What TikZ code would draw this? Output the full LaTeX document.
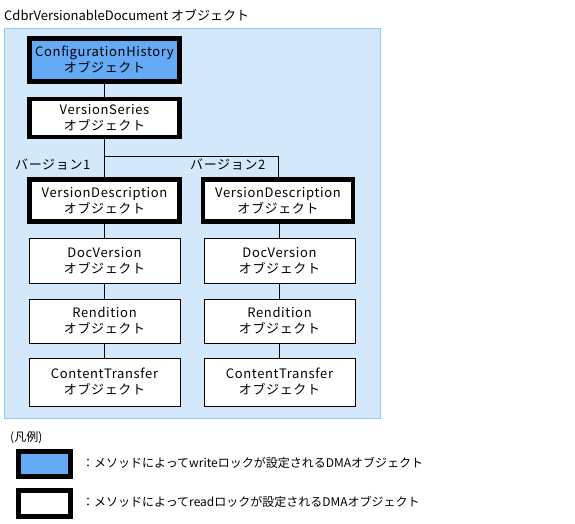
\documentclass[tikz,border=0pt]{standalone}
\usepackage{fontspec}
\setmainfont{Noto Sans CJK JP}
\newfontfamily\widejp[LetterSpace=5]{Noto Sans CJK JP}
\definecolor{panelfill}{RGB}{212,232,252}
\definecolor{panelline}{RGB}{150,200,245}
\definecolor{writeblue}{RGB}{100,170,245}
\tikzset{
  obj/.style={draw=black, line width=0.8pt, fill=white, minimum width=151pt, inner sep=0pt, align=center, font=\widejp\fontsize{13}{16}\selectfont},
  thickobj/.style={obj, line width=4.8pt, minimum width=150pt},
  writeobj/.style={thickobj, fill=writeblue},
  conn/.style={draw=black, line width=0.8pt},
  lbl/.style={inner sep=0pt, font=\widejp\fontsize{13}{15}\selectfont, anchor=west},
  titletext/.style={inner sep=0pt, font=\fontsize{13}{15}\selectfont, anchor=west},
  legtext/.style={inner sep=0pt, font=\fontsize{12}{14}\selectfont, anchor=west}
}
\begin{document}
\begin{tikzpicture}[x=1pt,y=-1pt]
\useasboundingbox (0,0) rectangle (575,523);
\fill[white] (0,0) rectangle (575,523);
\node[titletext] (title) at (4,15) {CdbrVersionableDocument オブジェクト};
\draw[draw=panelline, fill=panelfill, line width=1pt] (4.5,28.5) rectangle (380.5,418.5);

\node[writeobj, minimum height=43pt] (ch) at (104.5,60) {ConfigurationHistory\\オブジェクト};
\node[thickobj, minimum height=38pt] (vs) at (104.5,118) {VersionSeries\\オブジェクト};
\node[thickobj, minimum height=42pt] (vd1) at (104.5,200.5) {VersionDescription\\オブジェクト};
\node[thickobj, minimum height=42pt] (vd2) at (278,200.5) {VersionDescription\\オブジェクト};
\node[obj, minimum height=45pt] (dv1) at (104.5,260.5) {DocVersion\\オブジェクト};
\node[obj, minimum height=45pt] (dv2) at (279.5,260.5) {DocVersion\\オブジェクト};
\node[obj, minimum height=44pt] (r1) at (104.5,321) {Rendition\\オブジェクト};
\node[obj, minimum height=44pt] (r2) at (279.5,321) {Rendition\\オブジェクト};
\node[obj, minimum height=48pt] (ct1) at (104.5,382) {ContentTransfer\\オブジェクト};
\node[obj, minimum height=48pt] (ct2) at (279.5,382) {ContentTransfer\\オブジェクト};

\coordinate (split) at (104.5,156);
\draw[conn] (ch) -- (vs);
\draw[conn] (vs) -- (vd1);
\draw[conn] (split) -| (vd2.north);
\draw[conn] (vd1) -- (dv1);
\draw[conn] (dv1) -- (r1);
\draw[conn] (r1) -- (ct1);
\draw[conn] (vd2.south -| dv2.north) -- (dv2);
\draw[conn] (dv2) -- (r2);
\draw[conn] (r2) -- (ct2);

\node[lbl] (v1) at (15,165) {バージョン1};
\node[lbl] (v2) at (190,165) {バージョン2};

\node[legtext] (legend) at (10,438) {(凡例)};
\node[draw=black, line width=4.8pt, fill=writeblue, minimum width=52pt, minimum height=25pt, inner sep=0pt] (lw) at (44.5,464) {};
\node[draw=black, line width=4.8pt, fill=white, minimum width=52pt, minimum height=26pt, inner sep=0pt] (lr) at (44.5,503.5) {};
\node[legtext] (tw) at (82,463) {：メソッドによってwriteロックが設定されるDMAオブジェクト};
\node[legtext] (tr) at (82,502) {：メソッドによってreadロックが設定されるDMAオブジェクト};
\end{tikzpicture}
\end{document}
